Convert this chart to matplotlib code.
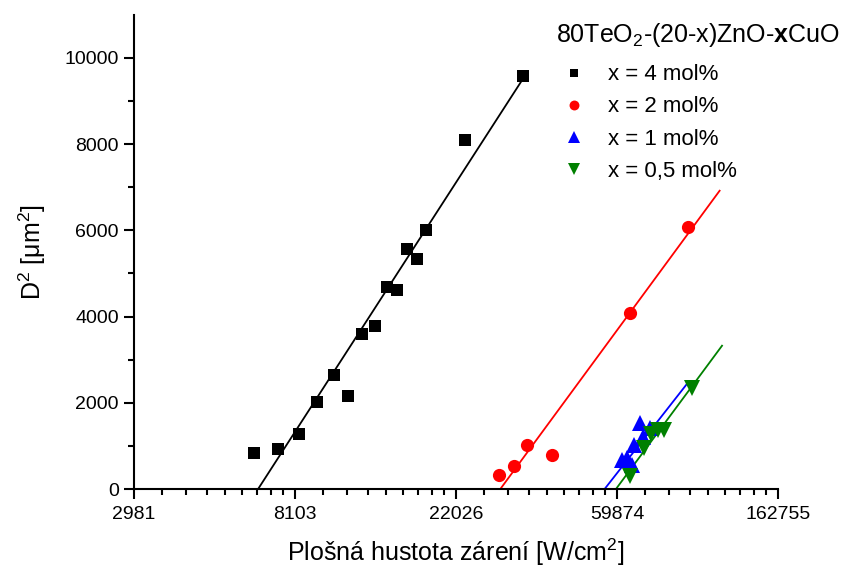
import numpy as np
from matplotlib import pyplot as plt
from matplotlib.ticker import FixedLocator, NullFormatter

# x = 4 mol%
f_x4 = [6290, 7300, 8310, 9290, 10300, 11270, 12300, 13280, 14330,
        15300, 16250, 17280, 18270, 23300, 33300]
d2_x4 = [842, 928, 1269, 2026, 2652, 2158, 3596, 3774, 4686,
         4624, 5568, 5336, 6009, 8090, 9589]
# x = 2 mol%
f_x2 = [28750, 31550, 34300, 39950, 65000, 92800]
d2_x2 = [332, 534, 1021, 782, 4090, 6078]
# x = 1 mol%
f_x1 = [61700, 63800, 65800, 66700, 69100, 70400, 73500]
d2_x1 = [673, 720, 557, 1021, 1531, 1206, 1415]
# x = 0,5 mol%
f_x05 = [65000, 70800, 74000, 77300, 80200, 95300]
d2_x05 = [300, 951, 1276, 1369, 1380, 2343]

# linear fits (start at D2 = 0, end point)
fit_f_x4 = [6440, 33480]
fit_d2_x4 = [0, 9535]
fit_f_x2 = [28990, 113200]
fit_d2_x2 = [0, 6920]
fit_f_x1 = [55400, 93400]
fit_d2_x1 = [0, 2490]
fit_f_x05 = [59450, 114900]
fit_d2_x05 = [0, 3325]

x_tick_labels = ['2981', '8103', '22026', '59874', '162755']
y_ticks = [0, 2000, 4000, 6000, 8000, 10000]


def main():
    plt.rcParams['font.family'] = ['Liberation Sans', 'DejaVu Sans']
    plt.rcParams['mathtext.fontset'] = 'custom'
    plt.rcParams['mathtext.rm'] = 'Liberation Sans'
    plt.rcParams['mathtext.it'] = 'Liberation Sans:italic'
    plt.rcParams['mathtext.bf'] = 'Liberation Sans:bold'

    fig = plt.figure(figsize=(8.43, 5.70), dpi=100)
    ax = fig.add_axes([0.159, 0.142, 0.764, 0.832])

    series = [
        (f_x4, d2_x4, fit_f_x4, fit_d2_x4, 'black', 's', 8.5, 'x = 4 mol%'),
        (f_x2, d2_x2, fit_f_x2, fit_d2_x2, 'red', 'o', 9.5, 'x = 2 mol%'),
        (f_x1, d2_x1, fit_f_x1, fit_d2_x1, 'blue', '^', 11, 'x = 1 mol%'),
        (f_x05, d2_x05, fit_f_x05, fit_d2_x05, 'green', 'v', 11,
         'x = 0,5 mol%'),
    ]
    for fx, fy, lx, ly, color, marker, ms, label in series:
        ax.plot(lx, ly, color=color, lw=1.3, zorder=2)
        ax.plot(fx, fy, linestyle='none', marker=marker, color=color,
                markersize=ms, markeredgewidth=0, label=label, zorder=3)

    ax.set_xscale('log', base=np.e)
    ax.set_xlim(np.e ** 8, np.e ** 12)
    ax.set_ylim(0, 11000)

    majors = [np.e ** k for k in range(8, 13)]
    minors = []
    for k in range(8, 12):
        minors.extend(np.linspace(np.e ** k, np.e ** (k + 1), 10)[1:-1])
    ax.xaxis.set_major_locator(FixedLocator(majors))
    ax.xaxis.set_minor_locator(FixedLocator(minors))
    ax.xaxis.set_minor_formatter(NullFormatter())
    ax.set_xticklabels(x_tick_labels)
    ax.set_yticks(y_ticks)
    ax.set_yticklabels([str(v) for v in y_ticks])
    ax.yaxis.set_minor_locator(FixedLocator(np.arange(1000, 11000, 2000)))

    for side in ['top', 'right']:
        ax.spines[side].set_visible(False)
    for side in ['left', 'bottom']:
        ax.spines[side].set_linewidth(1.5)
    ax.tick_params(which='major', length=7, width=1.5, labelsize=14,
                   direction='out')
    ax.tick_params(axis='x', which='major', pad=5)
    ax.tick_params(axis='y', which='major', pad=4)
    ax.tick_params(which='minor', length=4, width=1.5, direction='out')

    ax.set_xlabel('Plošná hustota zárení [W/cm$^2$]', fontsize=18, labelpad=10)
    ax.set_ylabel('D$^2$ [μm$^2$]', fontsize=18, labelpad=12)

    leg = ax.legend(title='80TeO$_2$-(20-x)ZnO-$\\mathbf{x}$CuO',
                    loc='upper left', bbox_to_anchor=(0.634, 1.015),
                    frameon=False, fontsize=16, title_fontsize=18,
                    markerscale=0.75, handlelength=1.62, handletextpad=0.72,
                    labelspacing=0.5, borderaxespad=0.2)
    leg._legend_box.align = 'left'
    leg._legend_box.sep = 11

    fig.savefig('out.png', dpi=100)


if __name__ == "__main__":
    main()
